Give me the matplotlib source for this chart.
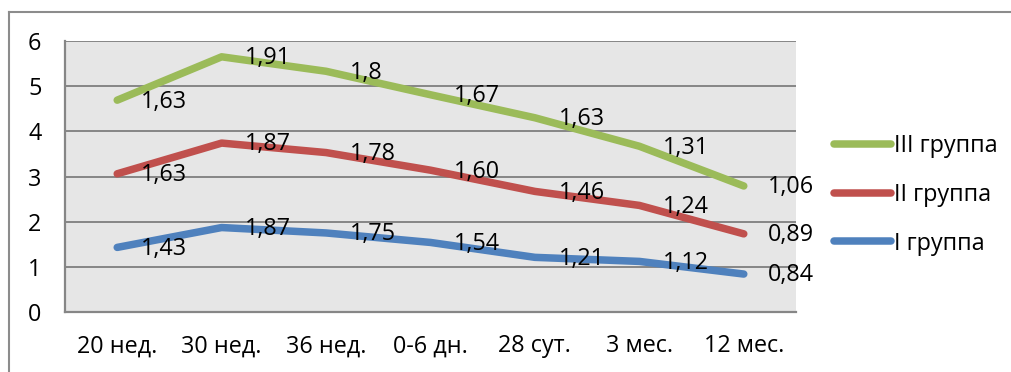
import matplotlib
matplotlib.use("Agg")
import matplotlib.pyplot as plt
import numpy as np
from matplotlib.lines import Line2D

plt.rcParams['font.family'] = ['Open Sans', 'DejaVu Sans']

categories = ["20 нед.", "30 нед.", "36 нед.", "0-6 дн.", "28 сут.", "3 мес.", "12 мес."]
group_1 = [1.43, 1.87, 1.75, 1.54, 1.21, 1.12, 0.84]
group_2 = [1.63, 1.87, 1.78, 1.60, 1.46, 1.24, 0.89]
group_3 = [1.63, 1.91, 1.80, 1.67, 1.63, 1.31, 1.06]
series_names = ["I группа", "II группа", "III группа"]
label_text = {
    0: ["1,43", "1,87", "1,75", "1,54", "1,21", "1,12", "0,84"],
    1: ["1,63", "1,87", "1,78", "1,60", "1,46", "1,24", "0,89"],
    2: ["1,63", "1,91", "1,8", "1,67", "1,63", "1,31", "1,06"],
}
colors = ["#4F81BD", "#C0504D", "#9BBB59"]
y_ticks = [0, 1, 2, 3, 4, 5, 6]

FS = 16.8
W, H = 1011, 372
fig = plt.figure(figsize=(W / 100, H / 100), dpi=100)
fig.patch.set_facecolor("white")

# outer chart frame (top and left edges)
fig.add_artist(Line2D([9 / W, 1], [1 - 12 / H, 1 - 12 / H], color="#8C8C8C", lw=1.5))
fig.add_artist(Line2D([9 / W, 9 / W], [0, 1 - 12 / H], color="#8C8C8C", lw=1.5))

ax = fig.add_axes([65 / W, 1 - 312 / H, (796 - 65) / W, (312 - 41) / H])
ax.set_facecolor("#E6E6E6")

x = np.arange(len(categories))
stack = np.cumsum(np.array([group_1, group_2, group_3]), axis=0)

for i in range(3):
    ax.plot(x, stack[i], color=colors[i], lw=5.4, solid_capstyle="round",
            solid_joinstyle="round", zorder=3)
    for j, xv in enumerate(x):
        ax.annotate(label_text[i][j], (xv, stack[i][j]), xytext=(17, -1),
                    textcoords="offset points", ha="left", va="center",
                    fontsize=FS, color="black", zorder=4, annotation_clip=False)

ax.set_xlim(-0.5, len(categories) - 0.5)
ax.set_ylim(0, 6)
ax.set_yticks(y_ticks)
ax.set_yticklabels([str(v) for v in y_ticks], fontsize=FS)
ax.set_xticks(x)
ax.set_xticklabels(categories, fontsize=FS)
ax.tick_params(axis="both", length=0)
ax.tick_params(axis="y", pad=17)
ax.tick_params(axis="x", pad=16)
ax.yaxis.grid(True, color="#868686", lw=1.4)
ax.set_axisbelow(True)
for side in ["top", "right"]:
    ax.spines[side].set_visible(False)
for side in ["left", "bottom"]:
    ax.spines[side].set_color("#868686")
    ax.spines[side].set_linewidth(1.6)

handles = [Line2D([0], [0], color=colors[i], lw=5.4, solid_capstyle="round") for i in (2, 1, 0)]
labels = [series_names[i] for i in (2, 1, 0)]
leg = fig.legend(handles, labels, loc="center left", bbox_to_anchor=(834 / W, 1 - 195 / H),
                 frameon=False, fontsize=FS, handlelength=2.45, handletextpad=0.1,
                 labelspacing=1.05, borderaxespad=0, borderpad=0)

fig.savefig("out.png", dpi=100)
